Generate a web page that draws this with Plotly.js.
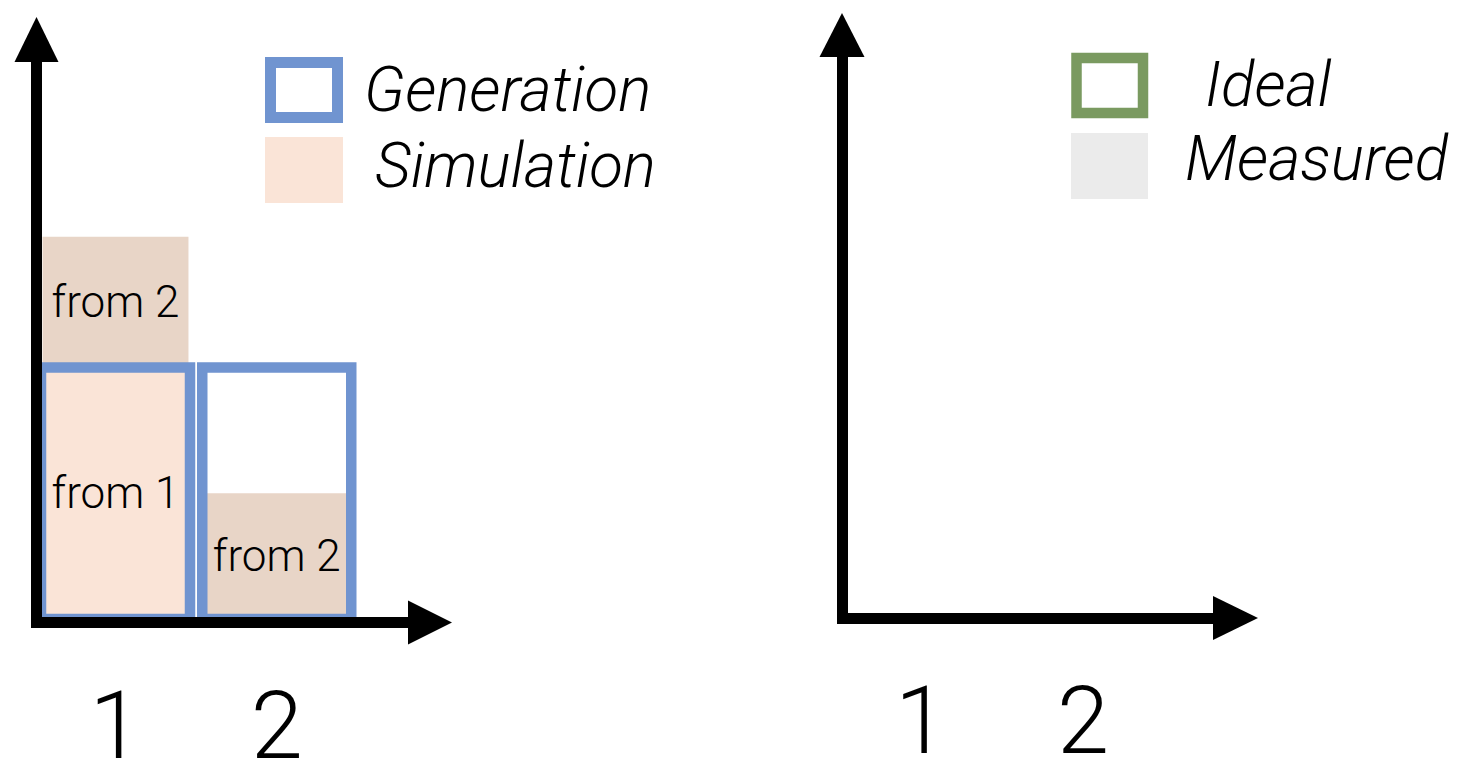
<!DOCTYPE html>
<html><head><meta charset="utf-8">
<script src="https://cdn.plot.ly/plotly-3.0.1.min.js"></script>
<style>html,body{margin:0;padding:0;background:#fff;}#chart{width:1458px;height:764px;}</style>
</head><body><div id="chart"></div>
<script>
// ---------------- data ----------------
const categories = [1, 2];
const tickLabels = ['1', '2'];
const generation = [1, 1];          // Generation (outlined bars)
const simFrom1 = [1, 0];            // Simulation, part coming from 1
const simFrom2 = [0.52, 0.5];       // Simulation, part coming from 2 (stacked on from 1)
const simFrom1Text = ['from 1', ''];
const simFrom2Text = ['from 2', 'from 2'];
const ideal = [];                   // right panel is empty
const measured = [];
const leftLegendLabels = ['Generation', 'Simulation'];
const rightLegendLabels = ['Ideal', 'Measured'];

// ---------------- styling / geometry ----------------
const W = 1458, H = 764;
const fx = p => p / W;
const fy = p => 1 - p / H;
function rangeFrom(pxA, pxB, pxV0, v0, pxV1, v1) {
  const k = (v1 - v0) / (pxV1 - pxV0);
  return [v0 + (pxA - pxV0) * k, v0 + (pxB - pxV0) * k];
}
const BLUE = '#7094D0', PEACH = '#FAE4D7', BEIGE = '#E8D5C7', GREEN = '#7A9A60', GRAY = '#EBEBEB';
const FONT = 'Roboto, "Liberation Sans", Arial, sans-serif';
const LW = 11;

const simFrom2Base = simFrom1.map(v => v);

const barText = {size: 44, family: FONT, color: '#000', weight: 300};

const traces = [
  {type: 'bar', x: categories, y: simFrom1, xaxis: 'x', yaxis: 'y', width: 0.905,
   marker: {color: PEACH, line: {width: 0}}, text: simFrom1Text, textposition: 'inside',
   insidetextanchor: 'middle', textangle: 0, constraintext: 'none', textfont: barText,
   name: 'Simulation from 1', showlegend: false, hoverinfo: 'skip'},
  {type: 'bar', x: categories, y: simFrom2, base: simFrom2Base, xaxis: 'x', yaxis: 'y', width: 0.905,
   marker: {color: BEIGE, line: {width: 0}}, text: simFrom2Text, textposition: 'inside',
   insidetextanchor: 'middle', textangle: 0, constraintext: 'none', textfont: barText,
   name: 'Simulation from 2', showlegend: false, hoverinfo: 'skip'},
  {type: 'bar', x: categories, y: generation, xaxis: 'x', yaxis: 'y', width: 0.924,
   marker: {color: 'rgba(0,0,0,0)', line: {color: BLUE, width: 10.5}},
   name: 'Generation', showlegend: false, hoverinfo: 'skip'},
  {type: 'bar', x: ideal, y: ideal, xaxis: 'x2', yaxis: 'y2', name: 'Ideal', showlegend: false,
   marker: {color: 'rgba(0,0,0,0)', line: {color: GREEN, width: 10.5}}},
  {type: 'bar', x: measured, y: measured, xaxis: 'x2', yaxis: 'y2', name: 'Measured', showlegend: false,
   marker: {color: GRAY}}
];

function axisX(domPx, range, anchor) {
  return {domain: [fx(domPx[0]), fx(domPx[1])], range: range, anchor: anchor,
    showline: true, linewidth: LW, linecolor: '#000', showgrid: false, zeroline: false,
    ticks: '', tickmode: 'array', tickvals: categories, ticktext: tickLabels,
    tickfont: {size: 94, family: FONT, color: '#000', weight: 300},
    ticklabelstandoff: 17, fixedrange: true};
}
function axisY(domPx, range, anchor) {
  return {domain: [fy(domPx[0]), fy(domPx[1])], range: range, anchor: anchor,
    showline: true, linewidth: LW, linecolor: '#000', showgrid: false, zeroline: false,
    showticklabels: false, ticks: '', fixedrange: true};
}

function tri(pts) {
  return {type: 'path', xref: 'paper', yref: 'paper', fillcolor: '#000', line: {width: 0},
    path: 'M' + pts.map(p => fx(p[0]) + ',' + fy(p[1])).join('L') + 'Z'};
}
function rectPx(x0, y0, x1, y1, fill, lineColor, lineWidth) {
  return {type: 'rect', xref: 'paper', yref: 'paper', x0: fx(x0), x1: fx(x1), y0: fy(y0), y1: fy(y1),
    fillcolor: fill, line: {color: lineColor || 'rgba(0,0,0,0)', width: lineWidth || 0}};
}
function legendText(txt, xPx, yPx) {
  return {text: txt, xref: 'paper', yref: 'paper', x: fx(xPx), y: fy(yPx), xanchor: 'left', yanchor: 'middle',
    showarrow: false, font: {size: 62, family: FONT, color: '#000', style: 'italic', weight: 300}};
}

const layout = {
  width: W, height: H, margin: {l: 0, r: 0, t: 0, b: 0},
  paper_bgcolor: '#fff', plot_bgcolor: 'rgba(0,0,0,0)',
  barmode: 'overlay', showlegend: false, hovermode: false,
  xaxis: axisX([42, 408], rangeFrom(42, 408, 115.5, 1, 276.75, 2), 'y'),
  yaxis: axisY([617, 62], rangeFrom(617, 62, 619, 0, 367.5, 1), 'x'),
  xaxis2: axisX([847.5, 1213], rangeFrom(847.5, 1213, 921, 1, 1083, 2), 'y2'),
  yaxis2: axisY([612.5, 57], rangeFrom(612.5, 57, 614.5, 0, 363, 1), 'x2'),
  shapes: [
    // arrow heads
    tri([[36.5, 17], [14.5, 62], [58.5, 62]]),
    tri([[452, 622.5], [408, 600.5], [408, 644.5]]),
    tri([[842, 13], [819.5, 57], [864.5, 57]]),
    tri([[1258, 618], [1213, 596], [1213, 640]]),
    // legend swatches
    rectPx(270.5, 62.5, 337.5, 117.5, 'rgba(0,0,0,0)', BLUE, 11),
    rectPx(265, 137, 343, 203, PEACH),
    rectPx(1076.5, 58, 1143, 113, 'rgba(0,0,0,0)', GREEN, 10.5),
    rectPx(1071, 133, 1148, 199, GRAY)
  ],
  annotations: [
    legendText(leftLegendLabels[0], 362, 90),
    legendText(leftLegendLabels[1], 373, 165),
    legendText(rightLegendLabels[0], 1203, 84),
    legendText(rightLegendLabels[1], 1183, 158)
  ]
};

Plotly.newPlot('chart', traces, layout, {displayModeBar: false, staticPlot: true});
</script>
</body></html>
